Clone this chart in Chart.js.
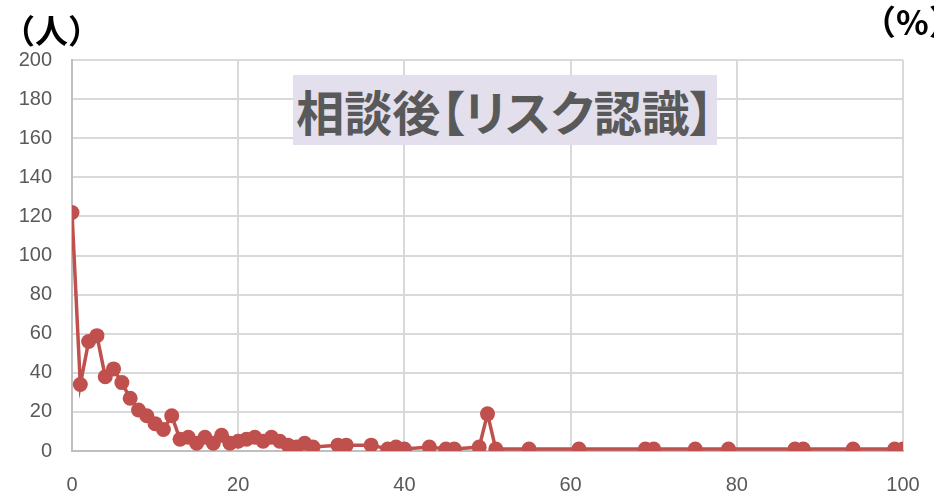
<!DOCTYPE html>
<html>
<head>
<meta charset="utf-8">
<script src="https://cdn.jsdelivr.net/npm/chart.js@4.4.1/dist/chart.umd.min.js"></script>
<style>
    html, body { margin: 0; padding: 0; background: #fff; }
    #wrap { position: relative; width: 934px; height: 501px; overflow: hidden; }
    #riskChart { position: absolute; left: 0; top: 0; }
    .unit { position: absolute; font-family: "Noto Sans CJK JP", sans-serif; font-weight: bold; color: #000; white-space: nowrap; line-height: 1; }
    #unitY { left: 2px; top: 13px; font-size: 33px; }
    #unitX { left: 862px; top: 4px; font-size: 34px; }
    #title {
        position: absolute; left: 293px; top: 75px; width: 424px; height: 70px;
        background: #e4dfec; color: #595959;
        font-family: "Noto Sans CJK JP", sans-serif; font-weight: bold; font-size: 48px;
        font-feature-settings: "palt";
        line-height: 70px; text-align: center; white-space: nowrap;
    }
</style>
</head>
<body>
<div id="wrap">
    <canvas id="riskChart" width="934" height="501"></canvas>
    <div class="unit" id="unitY">（人）</div>
    <div class="unit" id="unitX">（%）</div>
    <div id="title">相談後【リスク認識】</div>
</div>
<script>
// 認識度(%) ごとの人数
var riskPercent = [0, 1, 2, 3, 4, 5, 6, 7, 8, 9, 10, 11, 12, 13, 14, 15, 16, 17, 18, 19,
    20, 21, 22, 23, 24, 25, 26, 27, 28, 29, 32, 33, 36, 38, 39, 40, 43, 45, 46, 49,
    50, 51, 55, 61, 69, 70, 75, 79, 87, 88, 94, 99, 100];
var peopleCount = [122, 34, 56, 59, 38, 42, 35, 27, 21, 18, 14, 11, 18, 6, 7, 4, 7, 4, 8, 4,
    5, 6, 7, 5, 7, 5, 3, 2, 4, 2, 3, 3, 3, 1, 2, 1, 2, 1, 1, 2,
    19, 1, 1, 1, 1, 1, 1, 1, 1, 1, 1, 1, 1];
var xTicks = [0, 20, 40, 60, 80, 100];
var yTicks = [0, 20, 40, 60, 80, 100, 120, 140, 160, 180, 200];

var points = [];
for (var i = 0; i < riskPercent.length; i++) {
    points.push({ x: riskPercent[i], y: peopleCount[i] });
}

var tickFont = { family: 'Liberation Sans', size: 20 };

var ctx = document.getElementById('riskChart').getContext('2d');
var riskChart = new Chart(ctx, {
    type: 'line',
    data: {
        datasets: [{
            data: points,
            borderColor: '#c0504d',
            backgroundColor: '#c0504d',
            borderWidth: 3.5,
            pointRadius: 7.5,
            pointBorderWidth: 0,
            tension: 0
        }]
    },
    options: {
        responsive: false,
        animation: false,
        layout: { padding: { top: 60, right: 31, left: 0, bottom: 0 } },
        plugins: { legend: { display: false }, tooltip: { enabled: false } },
        scales: {
            x: {
                type: 'linear',
                min: 0,
                max: 100,
                afterBuildTicks: function(scale) {
                    scale.ticks = xTicks.map(function(v) { return { value: v }; });
                },
                afterFit: function(scale) {
                    scale.height = 50;
                    // keep the plot edge fixed, the last label fits in the right margin
                    scale.paddingLeft = 0;
                    scale.paddingRight = 0;
                },
                ticks: { color: '#595959', font: tickFont, padding: 22, maxRotation: 0 },
                grid: { color: '#d9d9d9', lineWidth: 2, drawTicks: false },
                border: { color: '#bfbfbf', width: 2 }
            },
            y: {
                min: 0,
                max: 200,
                afterBuildTicks: function(scale) {
                    scale.ticks = yTicks.map(function(v) { return { value: v }; });
                },
                afterFit: function(scale) {
                    scale.width = 72;
                    scale.paddingTop = 0;
                    scale.paddingBottom = 0;
                },
                ticks: { color: '#595959', font: tickFont, padding: 20 },
                grid: { color: '#d9d9d9', lineWidth: 2, drawTicks: false },
                border: { color: '#bfbfbf', width: 2 }
            }
        }
    }
});
</script>
</body>
</html>
